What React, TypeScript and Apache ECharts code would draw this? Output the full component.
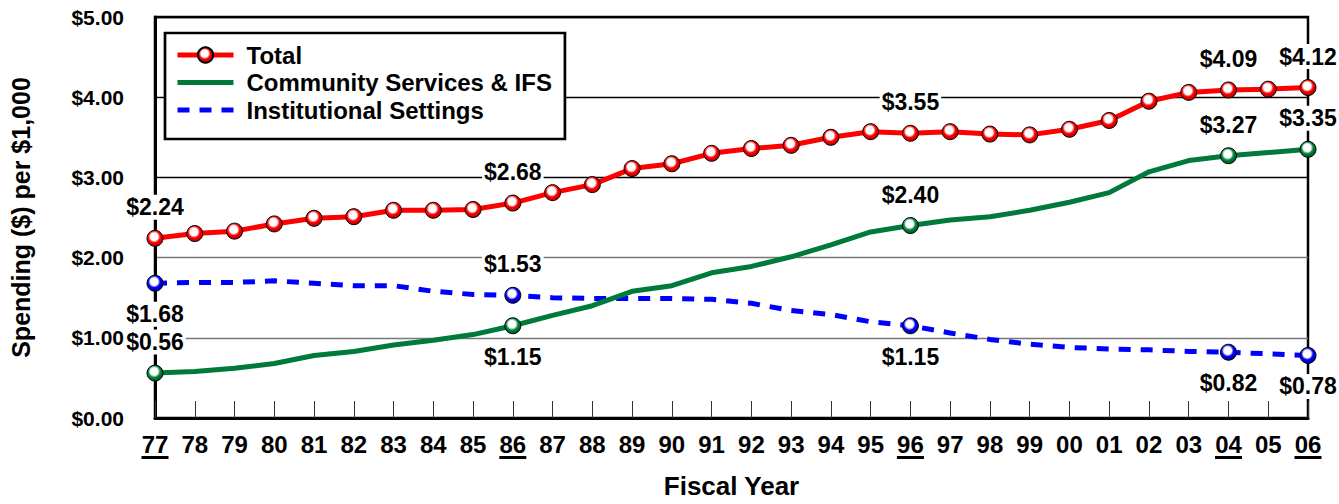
import React, { useEffect, useRef } from 'react';
import * as echarts from 'echarts';

const years = ['77', '78', '79', '80', '81', '82', '83', '84', '85', '86', '87', '88', '89', '90', '91', '92', '93', '94', '95', '96', '97', '98', '99', '00', '01', '02', '03', '04', '05', '06'];
const totalValues = [2.24, 2.30, 2.33, 2.42, 2.49, 2.51, 2.59, 2.59, 2.60, 2.68, 2.81, 2.91, 3.11, 3.17, 3.30, 3.36, 3.40, 3.50, 3.57, 3.55, 3.57, 3.54, 3.53, 3.60, 3.71, 3.95, 4.06, 4.09, 4.10, 4.12];
const communityValues = [0.56, 0.58, 0.62, 0.68, 0.78, 0.83, 0.91, 0.97, 1.04, 1.15, 1.28, 1.40, 1.58, 1.65, 1.81, 1.89, 2.01, 2.16, 2.32, 2.40, 2.47, 2.51, 2.59, 2.69, 2.81, 3.07, 3.21, 3.27, 3.31, 3.35];
const institutionalValues = [1.68, 1.69, 1.69, 1.71, 1.68, 1.65, 1.65, 1.58, 1.54, 1.53, 1.50, 1.49, 1.49, 1.49, 1.48, 1.43, 1.34, 1.29, 1.20, 1.15, 1.06, 0.98, 0.92, 0.88, 0.86, 0.85, 0.83, 0.82, 0.80, 0.78];
const labeledIdx = [0, 9, 19, 27, 29];
const totalLabelPos = ['top', 'top', 'top', 'top', 'top'];
const communityLabelPos = ['top', 'bottom', 'top', 'top', 'top'];
const institutionalLabelPos = ['bottom', 'top', 'bottom', 'bottom', 'bottom'];
const yTicks = [0, 1, 2, 3, 4, 5];
const titleText = 'Spending (per $1,000 Personal Income)';
const seriesNames = ['Total', 'Community Services & IFS', 'Institutional Settings'];

const FONT = '"Liberation Sans", Arial, Helvetica, sans-serif';
const RED = '#ff0000';
const GREEN = '#007a3a';
const BLUE = '#0000ff';

const ball = (c: string, dark: string) =>
  new echarts.graphic.RadialGradient(0.45, 0.4, 0.62, [
    { offset: 0, color: '#ffffff' },
    { offset: 0.38, color: '#ffffff' },
    { offset: 0.6, color: c },
    { offset: 1, color: dark },
  ]);

const fmt = (v: number) => '$' + v.toFixed(2);

const labelStyle = {
  show: true,
  fontFamily: FONT,
  fontWeight: 'bold' as const,
  fontSize: 23,
  color: '#000',
  opacity: 1,
  backgroundColor: '#fff',
  padding: [1, 2],
  distance: 10,
  formatter: (p: any) => fmt(Array.isArray(p.value) ? p.value[1] : p.value),
};

function markerData(values: number[], positions: string[]) {
  return values.map((v, i) => {
    const k = labeledIdx.indexOf(i);
    if (k < 0) return '-';
    return { value: v, label: { ...labelStyle, position: positions[k] } };
  });
}

export default function App() {
  const ref = useRef<HTMLDivElement>(null);
  useEffect(() => {
    const chart = echarts.init(ref.current!, null, { renderer: 'svg' });
    const totalData = totalValues.map((v, i) => {
      const k = labeledIdx.indexOf(i);
      if (k < 0) return v;
      return { value: v, label: { ...labelStyle, position: totalLabelPos[k] } };
    });
    const option: any = {
      animation: false,
      backgroundColor: '#ffffff',
      title: {
        text: titleText,
        left: 541,
        top: -41,
        padding: 0,
        textStyle: { fontFamily: FONT, fontWeight: 'bold', fontSize: 36, color: '#000' },
      },
      grid: {
        left: 155,
        right: 31,
        top: 17,
        bottom: 80,
        show: true,
        borderColor: '#000',
        borderWidth: 2.5,
        backgroundColor: 'transparent',
      },
      legend: {
        data: [
          { name: seriesNames[0] },
          { name: seriesNames[1], itemStyle: { opacity: 0 } },
          { name: seriesNames[2], itemStyle: { opacity: 0 } },
        ],
        orient: 'vertical',
        left: 165,
        top: 33,
        padding: [10, 13, 17, 10],
        itemGap: 3.5,
        itemWidth: 56,
        itemHeight: 19,
        backgroundColor: '#fff',
        borderColor: '#000',
        borderWidth: 2.7,
        borderRadius: 0,
        lineStyle: { width: 5 },
        textStyle: {
          fontFamily: FONT,
          fontWeight: 'bold',
          fontSize: 24,
          color: '#000',
          padding: [0, 0, 0, 8],
          lineHeight: 24,
        },
      },
      xAxis: {
        type: 'category',
        data: years,
        boundaryGap: false,
        name: 'Fiscal Year',
        nameLocation: 'middle',
        nameGap: 55,
        nameTextStyle: { fontFamily: FONT, fontWeight: 'bold', fontSize: 26, color: '#000' },
        axisLine: { show: true, lineStyle: { color: '#000', width: 3 } },
        axisTick: { show: true, inside: true, length: 17, lineStyle: { color: '#333', width: 1 } },
        axisLabel: {
          interval: 0,
          margin: 15,
          formatter: (v: string, i: number) =>
            labeledIdx.indexOf(i) >= 0 ? '{u|' + v + '}\n{l|}' : '{u|' + v + '}',
          rich: {
            u: { fontFamily: FONT, fontWeight: 'bold', fontSize: 24, color: '#000', lineHeight: 23 },
            l: { width: 27, height: 3, lineHeight: 3, backgroundColor: '#000' },
          },
        },
        splitLine: { show: false },
      },
      yAxis: {
        type: 'value',
        min: yTicks[0],
        max: yTicks[yTicks.length - 1],
        interval: 1,
        name: 'Spending ($) per $1,000',
        nameLocation: 'middle',
        nameGap: 122,
        nameTextStyle: { fontFamily: FONT, fontWeight: 'bold', fontSize: 25, color: '#000' },
        axisLine: { show: true, lineStyle: { color: '#000', width: 3 } },
        axisTick: { show: false },
        axisLabel: {
          margin: 31,
          fontFamily: FONT,
          fontWeight: 'bold',
          fontSize: 21,
          color: '#000',
          formatter: (v: number) => fmt(v),
        },
        splitLine: {
          show: true,
          lineStyle: { color: ['#000', '#777', '#777', '#000', '#000', '#000'], width: 1.3 },
        },
      },
      series: [
        {
          name: seriesNames[0],
          type: 'line',
          data: totalData,
          z: 5,
          symbol: 'circle',
          symbolSize: 16,
          showSymbol: true,
          lineStyle: { color: RED, width: 5 },
          itemStyle: { color: ball(RED, '#b00000'), borderColor: '#000', borderWidth: 1, opacity: 1 },
          label: { show: false },
        },
        {
          name: seriesNames[1],
          type: 'line',
          data: communityValues,
          z: 4,
          symbol: 'none',
          lineStyle: { color: GREEN, width: 5 },
          itemStyle: { color: GREEN },
        },
        {
          name: seriesNames[2],
          type: 'line',
          data: institutionalValues,
          z: 3,
          symbol: 'none',
          lineStyle: { color: BLUE, width: 5, type: [12, 10] },
          itemStyle: { color: BLUE },
        },
        {
          name: 'community-markers',
          type: 'scatter',
          data: markerData(communityValues, communityLabelPos),
          z: 6,
          symbol: 'circle',
          symbolSize: 16,
          itemStyle: { color: ball('#008a3c', '#004a20'), borderColor: '#000', borderWidth: 1, opacity: 1 },
        },
        {
          name: 'institutional-markers',
          type: 'scatter',
          data: markerData(institutionalValues, institutionalLabelPos),
          z: 6,
          symbol: 'circle',
          symbolSize: 16,
          itemStyle: { color: ball(BLUE, '#000090'), borderColor: '#000', borderWidth: 1, opacity: 1 },
        },
      ],
    };
    chart.setOption(option);
    return () => chart.dispose();
  }, []);
  return (
    <div
      ref={ref}
      style={{ position: 'fixed', left: 0, top: 0, width: 1339, height: 504, background: '#fff' }}
    />
  );
}
